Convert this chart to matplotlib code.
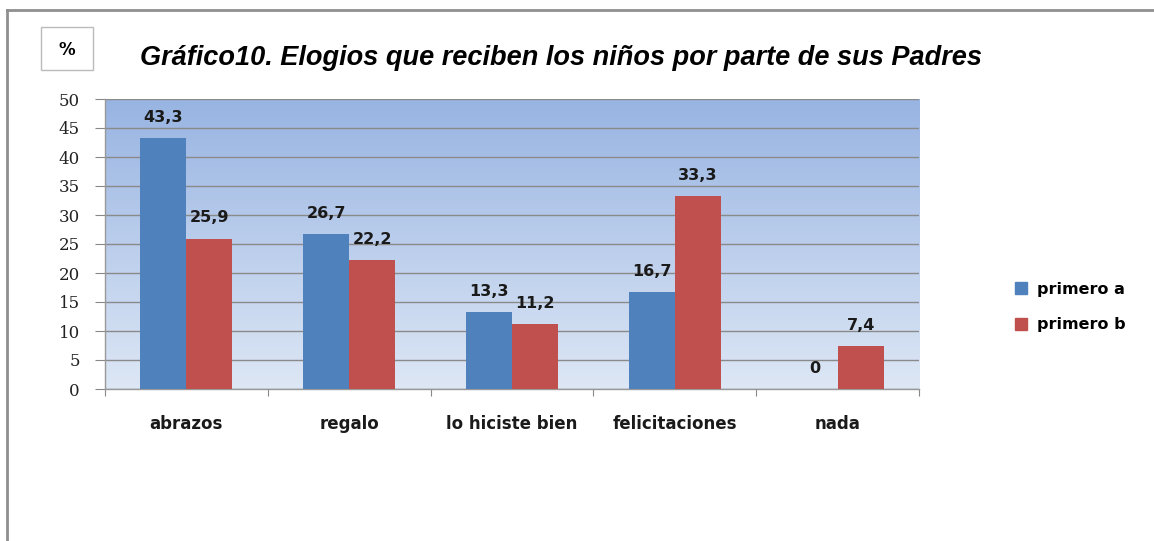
#!/usr/bin/env python3
"""Gráfico10: elogios que reciben los niños por parte de sus padres."""

import matplotlib
matplotlib.use("Agg")
import matplotlib.pyplot as plt
import numpy as np
from matplotlib.colors import LinearSegmentedColormap
from matplotlib.lines import Line2D
from matplotlib.patches import Rectangle

categories = ["abrazos", "regalo", "lo hiciste bien", "felicitaciones", "nada"]
primero_a = [43.3, 26.7, 13.3, 16.7, 0]
primero_b = [25.9, 22.2, 11.2, 33.3, 7.4]
series_names = ["primero a", "primero b"]
y_ticks = [0, 5, 10, 15, 20, 25, 30, 35, 40, 45, 50]

BLUE = "#4f81bd"
RED = "#c0504d"
TITLE_FONT = ["Liberation Sans", "DejaVu Sans"]
LABEL_FONT = ["DejaVu Sans"]


def fmt(v: float) -> str:
    s = f"{v:g}"
    return s.replace(".", ",")


def main() -> None:
    plt.rcParams["font.family"] = LABEL_FONT

    fig = plt.figure(figsize=(11.54, 5.41), dpi=100)
    ax = fig.add_axes([105 / 1154, 1 - 389 / 541, 814 / 1154, 290 / 541])

    # gradient plot background
    cmap = LinearSegmentedColormap.from_list("bg", ["#dde7f5", "#98b4e2"])
    grad = np.linspace(0, 1, 256).reshape(-1, 1)
    ax.imshow(grad, extent=[0, 5, 0, 50], origin="lower", aspect="auto",
              cmap=cmap, zorder=0)

    x = np.arange(len(categories)) + 0.5
    w = 0.283
    ax.bar(x - w / 2, primero_a, w, color=BLUE, zorder=3, label=series_names[0])
    ax.bar(x + w / 2, primero_b, w, color=RED, zorder=3, label=series_names[1])

    for xs, vals in ((x - w / 2, primero_a), (x + w / 2, primero_b)):
        for xi, v in zip(xs, vals):
            ax.annotate(fmt(v), (xi, v), xytext=(0, 15), textcoords="offset points",
                        ha="center", va="center", fontsize=11.5, fontweight="bold",
                        color="#1a1a1a", zorder=4)

    ax.set_xlim(0, 5)
    ax.set_ylim(0, 50)
    ax.set_yticks(y_ticks)
    ax.set_yticklabels([str(t) for t in y_ticks], fontsize=12,
                       family=["DejaVu Serif"], color="#222222")
    ax.yaxis.grid(True, color="#8a8a8a", linewidth=1.0, zorder=1)
    ax.set_axisbelow(True)

    ax.set_xticks(np.arange(0, 6))
    ax.set_xticklabels([])
    ax.set_xticks(x, minor=True)
    ax.set_xticklabels(categories, minor=True, fontsize=12, fontweight="bold",
                       color="#1a1a1a")
    ax.tick_params(axis="x", which="minor", length=0, pad=19)
    ax.tick_params(axis="x", which="major", length=5, color="#888888",
                   direction="out")
    ax.tick_params(axis="y", length=7, color="#888888", pad=11, direction="out")

    for side in ("top", "right"):
        ax.spines[side].set_visible(False)
    for side in ("left", "bottom"):
        ax.spines[side].set_color("#999999")
        ax.spines[side].set_linewidth(1)

    # legend
    handles = [Line2D([], [], marker="s", linestyle="none", markersize=8,
                      color=c) for c in (BLUE, RED)]
    fig.legend(handles, series_names, loc="center left",
               bbox_to_anchor=(991 / 1154, 1 - 307 / 541), frameon=False,
               handletextpad=0.0, labelspacing=1.3,
               prop={"weight": "bold", "size": 11.5})

    # title and "%" box
    fig.text(140 / 1154, 1 - 58 / 541,
             "Gráfico10. Elogios que reciben los niños por parte de sus Padres",
             fontsize=19.5, fontweight="bold", fontstyle="italic",
             family=TITLE_FONT, ha="left", va="center")
    fig.patches.append(Rectangle((41 / 1154, 1 - 70 / 541), 52 / 1154, 43 / 541,
                                 transform=fig.transFigure, fill=False,
                                 edgecolor="#bbbbbb", linewidth=1))
    fig.text(67 / 1154, 1 - 50 / 541, "%", fontsize=12, fontweight="bold",
             ha="center", va="center")

    # outer frame (top and left edges only visible)
    fig.add_artist(Line2D([7 / 1154, 1], [1 - 10 / 541, 1 - 10 / 541],
                          transform=fig.transFigure, color="#8f8f8f", linewidth=2))
    fig.add_artist(Line2D([7 / 1154, 7 / 1154], [0, 1 - 10 / 541],
                          transform=fig.transFigure, color="#8f8f8f", linewidth=2))

    fig.savefig("out.png", dpi=100)


if __name__ == "__main__":
    main()
